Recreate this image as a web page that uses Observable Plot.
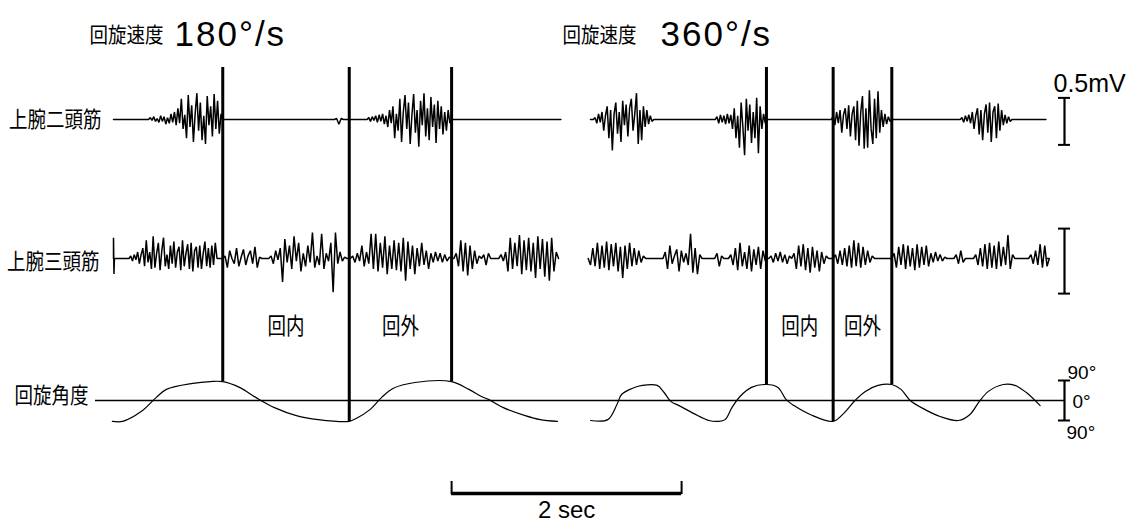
<!DOCTYPE html>
<html><head><meta charset="utf-8">
<script src="https://cdn.jsdelivr.net/npm/d3@7"></script>
<script src="https://cdn.jsdelivr.net/npm/@observablehq/plot@0.6"></script>
<style>html,body{margin:0;padding:0;background:#fff}#chart svg{display:block}</style>
</head><body><div id="chart"></div>
<script>
// ================= DATA =================
const speedLabel = "回旋速度";
const speeds = ["180°/s", "360°/s"];
const muscleLabels = ["上腕二頭筋", "上腕三頭筋"];
const angleLabel = "回旋角度";
const phaseLabels = ["回内", "回外"];
const emgScaleLabel = "0.5mV";
const angleScaleLabels = ["90°", "0°", "90°"];
const timeScaleLabel = "2 sec";

const DENSE_DT = 0.015;  // s between listed samples in dense bursts
const SPARSE_DT = 0.02;  // s between listed samples in sparse bursts

// trace extents (s, from the start of each recording)
const span180Biceps = [0, 3.89];
const span180Triceps = [0, 3.87];
const span360Biceps = [0, 3.96];
const span360Triceps = [-0.02, 3.96];

// ---- biceps (上腕二頭筋), mV ----
const biceps180Burst1 = [0.02,-0.01,0.03,-0.02,0.01,-0.03,0.04,-0.02,0.03,-0.05,0.02,-0.04,0.06,-0.03,0.08,-0.06,0.12,-0.04,0.22,-0.10,0.05,-0.20,0.26,-0.08,0.15,-0.24,0.06,0.28,-0.12,0.18,-0.22,0.04,-0.26,0.25,-0.06,0.14,-0.18,0.27,-0.10,0.20,-0.15,0.06];
const biceps180Blip = [0.01,-0.05,0.01];
const biceps180Burst2 = [0.02,-0.02,0.03,-0.01,0.04,-0.03,0.05,-0.02,0.06,-0.05,0.04,-0.08,0.10,-0.04,0.14,-0.20,0.06,-0.12,0.22,-0.24,0.08,0.26,-0.10,0.18,-0.26,0.05,0.27,-0.14,0.10,-0.29,0.20,-0.06,0.28,-0.18,0.12,-0.22,0.24,-0.08,0.16,-0.25,0.20,-0.10,0.14,-0.16,0.08,-0.12,0.10,-0.04];
const biceps360Burst1 = [0.02,-0.04,0.06,-0.03,0.08,-0.12,0.04,0.14,-0.20,0.10,-0.33,0.06,0.18,-0.15,0.08,-0.24,0.20,-0.06,0.16,-0.18,0.12,0.22,-0.12,0.06,0.28,-0.26,0.10,-0.22,0.14,-0.08,0.10,-0.05,0.04,-0.02];
const biceps360Burst2 = [0.03,-0.04,0.05,-0.03,0.04,-0.05,0.06,-0.04,0.05,-0.10,0.12,-0.20,0.04,-0.30,0.18,-0.08,-0.38,0.22,-0.12,0.16,-0.25,0.08,-0.20,0.23,-0.36,0.14,-0.10,0.06,-0.04];
const biceps360Burst3 = [0.04,-0.06,0.08,-0.04,0.10,-0.14,0.05,0.12,-0.10,0.15,-0.18,0.06,0.14,-0.22,0.20,-0.28,0.08,0.25,-0.31,0.12,-0.30,0.31,-0.10,-0.26,0.22,-0.20,0.30,-0.14,0.10,-0.08,0.06,-0.05,0.03,-0.02];
const biceps360Burst4 = [0.02,-0.03,0.04,-0.02,0.05,-0.04,0.08,-0.10,0.04,0.12,-0.16,0.10,-0.22,0.06,0.16,-0.14,0.18,-0.24,0.08,0.14,-0.20,0.17,-0.12,0.10,-0.06,0.05,-0.04,0.03,-0.02];

// ---- triceps (上腕三頭筋), mV ----
const triceps180Start = [0.16,-0.12,0.0];
const triceps180Burst1 = [0.02,-0.02,0.03,-0.01,0.05,-0.04,0.03,0.08,-0.06,0.14,-0.03,0.05,-0.08,0.17,-0.07,0.04,0.12,-0.09,0.06,0.16,-0.06,0.03,-0.08,0.10,-0.04,0.13,-0.07,0.05,0.09,-0.09,0.14,-0.06,0.04,0.11,-0.08,0.12,-0.10,0.06,0.09,-0.07,0.10,-0.08,0.04,0.13,-0.06,0.08,-0.07,0.10,-0.05,0.12];
const triceps180Burst2 = [0.02,-0.07,0.06,0,-0.04,0.08,-0.06,0.01,0.07,-0.05,0.02,0.06,-0.04,0.09,-0.07,0.01,0];
const triceps180Burst3 = [0.02,-0.04,0.06,-0.01,0.08,-0.18,0.15,-0.03,0.10,-0.08,0.17,-0.02,0.12,-0.10,0.04,-0.06,0.10,-0.03,0.20,-0.07,0.02,-0.05,0.19,-0.08,0.04,-0.02,0.12,-0.26,0.20,-0.04,0.05,-0.02,0.01];
const triceps180Burst4 = [0.02,-0.03,0.04,-0.02,0.10,-0.06,0.05,-0.04,0.19,-0.08,0.19,-0.10,0.12,-0.07,0.17,-0.12,0.10,-0.08,0.14,-0.09,0.12,-0.10,0.16,-0.17,0.13,-0.08,0.10,-0.12,0.08,-0.06,0.12,-0.05,0.06,-0.08,0.04,-0.03,0.05,-0.02,0.04,-0.03,0.03,-0.02,0.01];
const triceps180Burst5 = [0.04,-0.06,0.14,-0.10,0.12,-0.13,0.10,-0.08,0.06,-0.04,0.02];
const triceps180Burst6 = [0.03,-0.05,0.04];
const triceps180Burst7 = [0.03,-0.02,0.05,-0.10,0.16,-0.08,0.12,-0.06,0.18,-0.12,0.14,-0.09,0.16,-0.10,0.12,-0.15,0.17,-0.08,0.15,-0.14,0.13,-0.17,0.16,-0.10,0.05];
const triceps360Burst1 = [-0.05,0.08,-0.06,0.12,-0.08,0.10,-0.07,0.13,-0.09,0.11,-0.06,0.12,-0.10,0.09,-0.15,0.10,-0.08,0.12,-0.06,0.08,-0.05,0.06,-0.03,0.02];
const triceps360Burst2 = [0.05,-0.08,0.10,-0.04,0.02,0.07,-0.10,0.06,-0.03,0.04,-0.05,0.19,-0.11,0.08,-0.12,0.03];
const triceps360Burst3 = [0.04,-0.06,0.02];
const triceps360Burst4 = [0.03,-0.05,0.08,-0.09,0.12,-0.06,0.05,-0.08,0.10,-0.10,0.07,-0.05,0.09,-0.08,0.06,-0.02];
const triceps360Burst5 = [0.02,-0.03,0.04,-0.02,0.05,-0.03,0.03,-0.04,0.02];
const triceps360Burst6 = [0.04,-0.08,0.10,-0.06,0.11,-0.09,0.08,-0.11,0.09,-0.07,0.06,-0.10,0.05,-0.04,0.02];
const triceps360Burst7 = [0.03,-0.04,0.06,-0.05,0.08,-0.06,0.10,-0.07,0.14,-0.06,0.12,-0.07,0.09,-0.05,0.06,-0.03,0.02];
const triceps360Burst8 = [0.04,-0.07,0.09,-0.05,0.11,-0.08,0.10,-0.06,0.08,-0.09,0.11,-0.07,0.09,-0.05,0.10,-0.06,0.04,-0.03,0.05,-0.02,0.03,-0.02,0.01];
const triceps360Burst9 = [0.03,-0.04,0.06,-0.03];
const triceps360Burst10 = [0.03,-0.05,0.08,-0.06,0.11,-0.08,0.12,-0.07,0.10,-0.08,0.13,-0.06,0.09,-0.05,0.18,-0.08,0.03];
const triceps360Burst11 = [0.03,-0.04,0.06,-0.05,0.11,-0.07,0.10,-0.06];

// burst start times (s)
const biceps180Starts = [0.32, 1.94, 2.22];
const biceps360Starts = [0.04, 1.10, 2.11, 3.23];
const triceps180Starts = [0.0, 0.15, 0.97, 1.37, 2.08, 2.98, 3.22, 3.37];
const triceps360Starts = [0.0, 0.65, 1.10, 1.22, 1.57, 1.77, 2.13, 2.64, 3.18, 3.35, 3.83];

// ---- rotation angle (回旋角度), degrees ----
const angle180T = [-0.01,0.08,0.24,0.37,0.46,0.69,0.84,0.95,1.10,1.24,1.40,1.59,1.78,2.05,2.11,2.23,2.33,2.43,2.62,2.94,3.09,3.20,3.26,3.39,3.58,3.71,3.86];
const angle180Deg = [-94,-94,-50,13,50,77,85,85,58,13,-32,-68,-86,-94,-81,-41,13,54,81,85,50,18,5,-32,-68,-86,-94];
const angle360T = [0.00,0.15,0.23,0.27,0.36,0.45,0.58,0.64,0.70,0.77,0.90,1.03,1.11,1.17,1.23,1.30,1.40,1.53,1.63,1.70,1.77,1.91,2.11,2.20,2.30,2.39,2.50,2.62,2.70,2.78,2.91,3.04,3.20,3.30,3.38,3.46,3.59,3.69,3.79,3.91];
const angle360Deg = [-90,-86,-18,27,54,68,68,36,-5,-23,-59,-90,-94,-86,-32,18,59,72,59,5,-23,-63,-94,-59,0,41,68,72,50,0,-41,-72,-90,-63,-5,41,72,68,36,-23];

// ---- phase-change markers (s) and the angle there ----
const events180 = [0.95, 2.05, 2.94];
const eventAngles180 = [85, -94, 85];
const events360 = [1.53, 2.11, 2.62];
const eventAngles360 = [72, -94, 72];

// ---- calibration ----
const emgBar = [0.23, -0.27];   // 0.5 mV
const angleBar = [90, -90];
const timeBarSeconds = 2;
const timeBarStart = 2.94;

// ================= LAYOUT =================
const W = 1144, H = 527;
const X0 = 113, PX_PER_S = 115;             // left recording starts at X0
const RIGHT_OFFSET = (590 - X0) / PX_PER_S; // right recording offset (s)
const ROW = {biceps: 119, triceps: 258, angle: 400};
const GAIN = {biceps: 94, triceps: 130, angle: 1 / 4.5}; // px per unit
const yOf = (ch, v) => ROW[ch] - v * GAIN[ch];
const px = p => (p - X0) / PX_PER_S; // layout px -> time axis
const MARKER_TOP = 67;
const BAR_X = px(1064);
const CJK_CHAR_W = 18.5; // condensed Japanese lettering width per character

// ================= BUILD =================
function bursts(starts, arrays, dts) {
  return starts.map((t0, i) => ({t0, v: arrays[i], dt: dts[i]}));
}
function traceRows(id, ch, offset, span, bs) {
  const rows = [{id, ch, t: span[0] + offset, v: 0}];
  for (const b of bs) {
    if (b.t0 - b.dt > span[0]) rows.push({id, ch, t: b.t0 - b.dt + offset, v: 0});
    b.v.forEach((v, i) => rows.push({id, ch, t: b.t0 + i * b.dt + offset, v}));
    rows.push({id, ch, t: b.t0 + b.v.length * b.dt + offset, v: 0});
  }
  rows.push({id, ch, t: span[1] + offset, v: 0});
  return rows;
}
const D = DENSE_DT, S = SPARSE_DT;
const emg = [
  ...traceRows("b180", "biceps", 0, span180Biceps,
    bursts(biceps180Starts, [biceps180Burst1, biceps180Blip, biceps180Burst2], [D, S, D])),
  ...traceRows("t180", "triceps", 0, span180Triceps,
    bursts(triceps180Starts, [triceps180Start, triceps180Burst1, triceps180Burst2, triceps180Burst3,
      triceps180Burst4, triceps180Burst5, triceps180Burst6, triceps180Burst7], [0.004, D, S, S, S, S, S, S])),
  ...traceRows("b360", "biceps", RIGHT_OFFSET, span360Biceps,
    bursts(biceps360Starts, [biceps360Burst1, biceps360Burst2, biceps360Burst3, biceps360Burst4], [D, D, D, D])),
  ...traceRows("t360", "triceps", RIGHT_OFFSET, span360Triceps,
    bursts(triceps360Starts, [triceps360Burst1, triceps360Burst2, triceps360Burst3, triceps360Burst4,
      triceps360Burst5, triceps360Burst6, triceps360Burst7, triceps360Burst8, triceps360Burst9,
      triceps360Burst10, triceps360Burst11], [S, S, S, S, S, S, S, S, S, S, S]))
];
const angles = [
  ...angle180T.map((t, i) => ({id: "a180", t, deg: angle180Deg[i]})),
  ...angle360T.map((t, i) => ({id: "a360", t: t + RIGHT_OFFSET, deg: angle360Deg[i]}))
];
const markers = [
  ...events180.map((t, i) => ({t, deg: eventAngles180[i]})),
  ...events360.map((t, i) => ({t: t + RIGHT_OFFSET, deg: eventAngles360[i]}))
];
const phaseText = [
  {t: (events180[0] + events180[1]) / 2, label: phaseLabels[0]},
  {t: (events180[1] + events180[2]) / 2, label: phaseLabels[1]},
  {t: (events360[0] + events360[1]) / 2 + RIGHT_OFFSET, label: phaseLabels[0]},
  {t: (events360[1] + events360[2]) / 2 + RIGHT_OFFSET, label: phaseLabels[1]}
];
const calBars = [
  {ch: "biceps", a: emgBar[0], b: emgBar[1]},
  {ch: "triceps", a: emgBar[0], b: emgBar[1]},
  {ch: "angle", a: angleBar[0], b: angleBar[1]}
];
const serifs = calBars.flatMap(d => [{ch: d.ch, v: d.a}, {ch: d.ch, v: d.b}]);
const SERIF = 6 / PX_PER_S;

const cjk = "'Noto Sans CJK JP', 'Noto Sans CJK SC', sans-serif";
const latin = "'Liberation Sans', Arial, sans-serif";

const cjkTitles = [
  {x: px(89), y: 35, text: speedLabel},
  {x: px(562), y: 35, text: speedLabel}
];
const cjkRows = [
  {x: px(101), y: ROW.biceps, text: muscleLabels[0]},
  {x: px(99), y: ROW.triceps + 3, text: muscleLabels[1]},
  {x: px(88), y: 395, text: angleLabel}
];

const chart = Plot.plot({
  width: W, height: H, margin: 0,
  x: {domain: [px(0), px(W)], range: [0, W], axis: null},
  y: {domain: [0, H], range: [0, H], axis: null},
  style: {background: "white", color: "black"},
  marks: [
    Plot.ruleY([0], {y: d => yOf("angle", d), x1: px(95), x2: BAR_X, stroke: "black", strokeWidth: 1.5}),
    Plot.line(emg, {x: "t", y: d => yOf(d.ch, d.v), z: "id", stroke: "black", strokeWidth: 1.5, strokeLinejoin: "miter"}),
    Plot.line(angles, {x: "t", y: d => yOf("angle", d.deg), z: "id", stroke: "black", strokeWidth: 1.2, curve: "catmull-rom"}),
    Plot.ruleX(markers, {x: "t", y1: MARKER_TOP, y2: d => yOf("angle", d.deg), stroke: "black", strokeWidth: 3}),
    Plot.ruleX(calBars, {x: BAR_X, y1: d => yOf(d.ch, d.a), y2: d => yOf(d.ch, d.b), stroke: "black", strokeWidth: 2.2}),
    Plot.ruleY(serifs, {y: d => yOf(d.ch, d.v), x1: BAR_X - SERIF, x2: BAR_X + SERIF, stroke: "black", strokeWidth: 2}),
    Plot.ruleY([timeBarSeconds], {y: 493, x1: timeBarStart, x2: d => timeBarStart + d, stroke: "black", strokeWidth: 3.5}),
    Plot.ruleX([timeBarStart, timeBarStart + timeBarSeconds], {x: d => d, y1: 481, y2: 494, stroke: "black", strokeWidth: 2}),
    Plot.text(cjkTitles, {x: "x", y: "y", text: "text", textAnchor: "start", fontFamily: cjk, fontSize: 21, fill: "black"}),
    Plot.text(cjkRows, {x: "x", y: "y", text: "text", textAnchor: "end", fontFamily: cjk, fontSize: 22, fill: "black"}),
    Plot.text(phaseText, {x: "t", y: 326, text: "label", fontFamily: cjk, fontSize: 23, fill: "black"}),
    Plot.text([speeds[0]], {x: px(174), y: 34, text: d => d, textAnchor: "start", fontFamily: latin, fontSize: 35, fill: "black"}),
    Plot.text([speeds[1]], {x: px(660), y: 34, text: d => d, textAnchor: "start", fontFamily: latin, fontSize: 35, fill: "black"}),
    Plot.text([emgScaleLabel], {x: px(1053), y: 83, text: d => d, textAnchor: "start", fontFamily: latin, fontSize: 25, fill: "black"}),
    Plot.text(angleScaleLabels, {x: (d, i) => px([1067, 1072, 1066][i]), y: (d, i) => [372, 401, 432][i], text: d => d, textAnchor: "start", fontFamily: latin, fontSize: 19, fill: "black"}),
    Plot.text([timeScaleLabel], {x: timeBarStart + timeBarSeconds / 2, y: 510, text: d => d, fontFamily: latin, fontSize: 24, fill: "black"})
  ]
});

// condensed Japanese lettering and spaced title numerals, as in the print
d3.select(chart).selectAll("text").each(function () {
  const el = d3.select(this);
  const s = this.textContent;
  if (/[\u3000-\u9fff]/.test(s)) {
    el.attr("textLength", s.length * CJK_CHAR_W).attr("lengthAdjust", "spacingAndGlyphs");
  } else if (speeds.includes(s)) {
    el.style("letter-spacing", "2px");
  }
});
document.getElementById("chart").appendChild(chart);
</script>
</body></html>
